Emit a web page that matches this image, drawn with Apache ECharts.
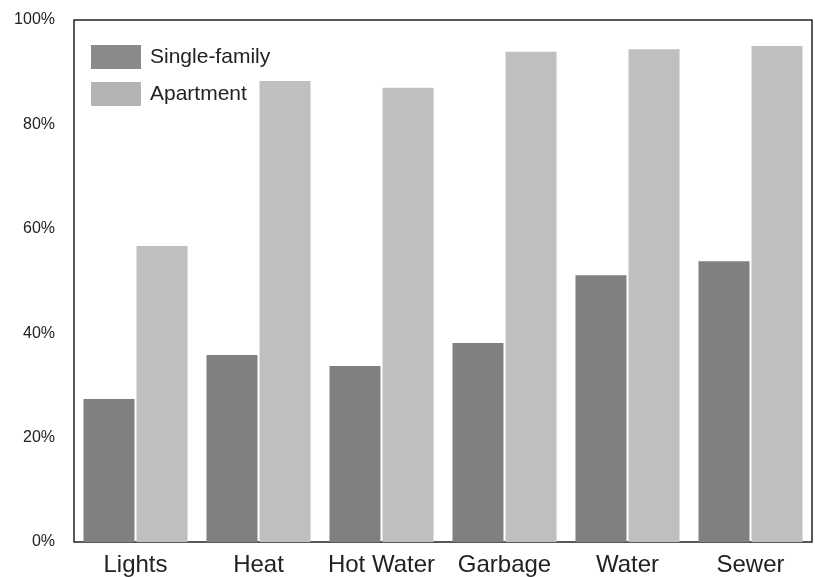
<!DOCTYPE html>
<html>
<head>
<meta charset="utf-8">
<script src="https://cdn.jsdelivr.net/npm/echarts@6/dist/echarts.min.js"></script>
<style>
  html, body { margin: 0; padding: 0; background: #fff; }
  #main { width: 815px; height: 577px; }
</style>
</head>
<body>
<div id="main"></div>
<script>
// 数据
var categories = ['Lights', 'Heat', 'Hot Water', 'Garbage', 'Water', 'Sewer'];
var singleFamily = [27.4, 35.8, 33.7, 38.1, 51.1, 53.8];
var apartment = [56.7, 88.3, 87.0, 93.9, 94.4, 95.0];
var yTicks = [0, 20, 40, 60, 80, 100];

var chart = echarts.init(document.getElementById('main'));
var option = {
    animation: false,
    backgroundColor: '#fff',
    textStyle: { fontFamily: 'Liberation Sans, Arial, sans-serif' },
    grid: {
        left: 74, right: 3, top: 20, bottom: 35,
        show: true,
        borderColor: '#222',
        borderWidth: 1.5,
        backgroundColor: 'transparent'
    },
    legend: {
        orient: 'vertical',
        left: 91,
        top: 45,
        padding: 0,
        icon: 'rect',
        itemWidth: 50,
        itemHeight: 24,
        itemGap: 13,
        textStyle: { fontSize: 21, color: '#222', padding: [0, 0, 0, 4] },
        data: [
            { name: 'Single-family', itemStyle: { color: '#8a8a8a' } },
            { name: 'Apartment', itemStyle: { color: '#b3b3b3' } }
        ]
    },
    xAxis: {
        type: 'category',
        data: categories,
        axisLine: { show: false },
        axisTick: { show: false },
        axisLabel: { fontSize: 24, color: '#222', margin: 11, interval: 0 }
    },
    yAxis: {
        type: 'value',
        min: yTicks[0],
        max: yTicks[yTicks.length - 1],
        interval: 20,
        splitLine: { show: false },
        axisLine: { show: false },
        axisTick: { show: false },
        axisLabel: {
            fontSize: 16, color: '#222', margin: 19,
            formatter: function (v) { return v + '%'; }
        }
    },
    series: [{
        name: 'Single-family',
        type: 'bar',
        data: singleFamily,
        barWidth: 51,
        barGap: '4%',
        itemStyle: { color: '#808080' }
    }, {
        name: 'Apartment',
        type: 'bar',
        data: apartment,
        barWidth: 51,
        itemStyle: { color: '#bfbfbf' }
    }]
};
chart.setOption(option);
</script>
</body>
</html>
